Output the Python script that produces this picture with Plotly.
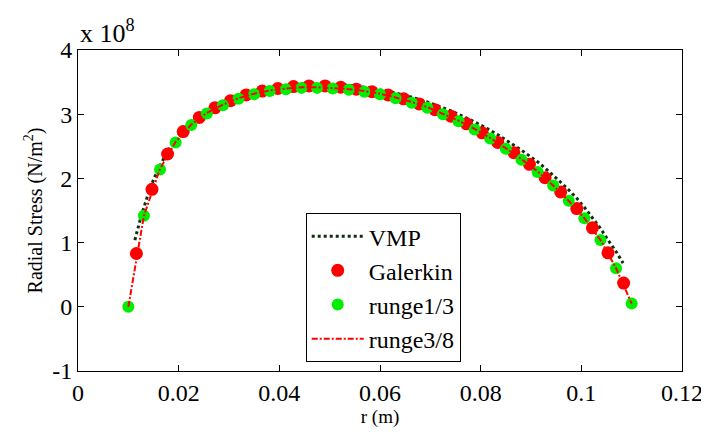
import plotly.graph_objects as go

# Galerkin (red markers)
r_galerkin = [0.0116, 0.0147, 0.0178, 0.0209, 0.0241, 0.0272, 0.0303, 0.0334, 0.0366, 0.0397,
              0.0428, 0.0459, 0.0491, 0.0522, 0.0553, 0.0584, 0.0616, 0.0647, 0.0678, 0.0709,
              0.0741, 0.0772, 0.0803, 0.0834, 0.0866, 0.0897, 0.0928, 0.0959, 0.0991, 0.1022,
              0.1053, 0.1084]
s_galerkin = [0.83, 1.83, 2.38, 2.73, 2.95, 3.10, 3.21, 3.30, 3.36, 3.40,
              3.43, 3.44, 3.44, 3.42, 3.39, 3.35, 3.30, 3.24, 3.16, 3.07,
              2.97, 2.85, 2.71, 2.56, 2.40, 2.22, 2.01, 1.79, 1.53, 1.23,
              0.84, 0.37]

# runge1/3 (green markers)
r_runge13 = [0.0100, 0.0131, 0.0163, 0.0194, 0.0225, 0.0256, 0.0288, 0.0319, 0.0350, 0.0381,
             0.0413, 0.0444, 0.0475, 0.0506, 0.0538, 0.0569, 0.0600, 0.0631, 0.0663, 0.0694,
             0.0725, 0.0756, 0.0788, 0.0819, 0.0850, 0.0881, 0.0913, 0.0944, 0.0975, 0.1006,
             0.1038, 0.1069, 0.1100]
s_runge13 = [0.00, 1.42, 2.14, 2.56, 2.83, 3.01, 3.14, 3.24, 3.31, 3.36,
             3.39, 3.41, 3.41, 3.40, 3.38, 3.35, 3.31, 3.25, 3.18, 3.10,
             3.00, 2.89, 2.76, 2.62, 2.46, 2.29, 2.10, 1.89, 1.65, 1.38,
             1.04, 0.60, 0.05]

# runge3/8 (red dash-dot line)
r_runge38 = r_runge13
s_runge38 = [0.00, 1.42, 2.15, 2.57, 2.84, 3.02, 3.15, 3.25, 3.32, 3.37,
             3.40, 3.42, 3.42, 3.41, 3.39, 3.36, 3.32, 3.26, 3.19, 3.11,
             3.01, 2.90, 2.77, 2.63, 2.47, 2.30, 2.11, 1.89, 1.65, 1.38,
             1.04, 0.60, 0.05]

# VMP (dark dotted line)
r_vmp = [0.0113, 0.0125, 0.0138, 0.0150, 0.0163, 0.0178, 0.0194, 0.0209, 0.0225, 0.0241,
         0.0256, 0.0272, 0.0288, 0.0303, 0.0319, 0.0334, 0.0350, 0.0366, 0.0381, 0.0397,
         0.0413, 0.0428, 0.0444, 0.0459, 0.0475, 0.0491, 0.0506, 0.0522, 0.0538, 0.0553,
         0.0569, 0.0584, 0.0600, 0.0616, 0.0631, 0.0647, 0.0663, 0.0678, 0.0694, 0.0709,
         0.0725, 0.0741, 0.0756, 0.0772, 0.0788, 0.0803, 0.0819, 0.0834, 0.0850, 0.0866,
         0.0881, 0.0897, 0.0913, 0.0928, 0.0944, 0.0959, 0.0975, 0.0991, 0.1006, 0.1022,
         0.1038, 0.1053, 0.1069, 0.1083]
s_vmp = [1.04, 1.40, 1.72, 1.98, 2.20, 2.42, 2.61, 2.76, 2.88, 2.98,
         3.06, 3.13, 3.19, 3.24, 3.29, 3.33, 3.36, 3.39, 3.41, 3.43,
         3.45, 3.46, 3.47, 3.47, 3.47, 3.47, 3.47, 3.46, 3.45, 3.44,
         3.42, 3.40, 3.38, 3.36, 3.33, 3.30, 3.27, 3.23, 3.19, 3.15,
         3.10, 3.05, 3.00, 2.94, 2.88, 2.82, 2.75, 2.68, 2.60, 2.52,
         2.44, 2.35, 2.26, 2.16, 2.05, 1.94, 1.82, 1.69, 1.55, 1.39,
         1.22, 1.04, 0.86, 0.68]

x_ticks = [0, 0.02, 0.04, 0.06, 0.08, 0.1, 0.12]
x_tick_labels = ["0", "0.02", "0.04", "0.06", "0.08", "0.1", "0.12"]
y_ticks = [-1, 0, 1, 2, 3, 4]
y_tick_labels = ["-1", "0", "1", "2", "3", "4"]

SERIF = "Liberation Serif"

fig = go.Figure()
fig.add_trace(go.Scatter(x=r_vmp, y=s_vmp, mode="lines", name="VMP",
                         line=dict(color="#0b2f0b", width=3, dash="dot")))
fig.add_trace(go.Scatter(x=r_galerkin, y=s_galerkin, mode="markers", name="Galerkin",
                         marker=dict(color="#ff0000", size=13, line=dict(width=0))))
fig.add_trace(go.Scatter(x=r_runge13, y=s_runge13, mode="markers", name="runge1/3",
                         marker=dict(color="#00ee00", size=12, line=dict(width=0))))
fig.add_trace(go.Scatter(x=r_runge38, y=s_runge38, mode="lines", name="runge3/8",
                         line=dict(color="#ff0000", width=2, dash="6px,2px,2px,2px")))

axis_common = dict(showline=True, linecolor="black", linewidth=1, mirror="ticks",
                   ticks="inside", ticklen=6, tickcolor="black", showgrid=False,
                   zeroline=False, automargin=False,
                   tickfont=dict(family=SERIF, size=24, color="black"))

# page body has an 8px default margin, so the figure is 8px smaller than the window
fig.update_layout(
    width=701, height=424,
    margin=dict(l=70, r=27, t=42, b=61),
    paper_bgcolor="white", plot_bgcolor="white",
    font=dict(family=SERIF, color="black"),
    showlegend=True,
    legend=dict(x=0.377, y=0.492, xanchor="left", yanchor="top",
                bgcolor="white", bordercolor="black", borderwidth=1,
                font=dict(family=SERIF, size=24, color="black"),
                itemwidth=52, tracegroupgap=0),
    xaxis=dict(range=[0, 0.12], tickvals=x_ticks, ticktext=x_tick_labels,
               title=dict(text="r (m)", font=dict(family=SERIF, size=19, color="black"), standoff=2),
               **axis_common),
    yaxis=dict(range=[-1, 4], tickvals=y_ticks, ticktext=y_tick_labels,
               title=dict(text="Radial Stress (N/m<sup>2</sup>)", font=dict(family=SERIF, size=20, color="black"), standoff=4),
               **axis_common),
    annotations=[dict(text="x 10<sup>8</sup>", xref="paper", yref="paper", x=0, y=1.0,
                      xanchor="left", yanchor="bottom", showarrow=False, yshift=0,
                      font=dict(family=SERIF, size=26, color="black"))],
)

fig.write_html("out.html")
